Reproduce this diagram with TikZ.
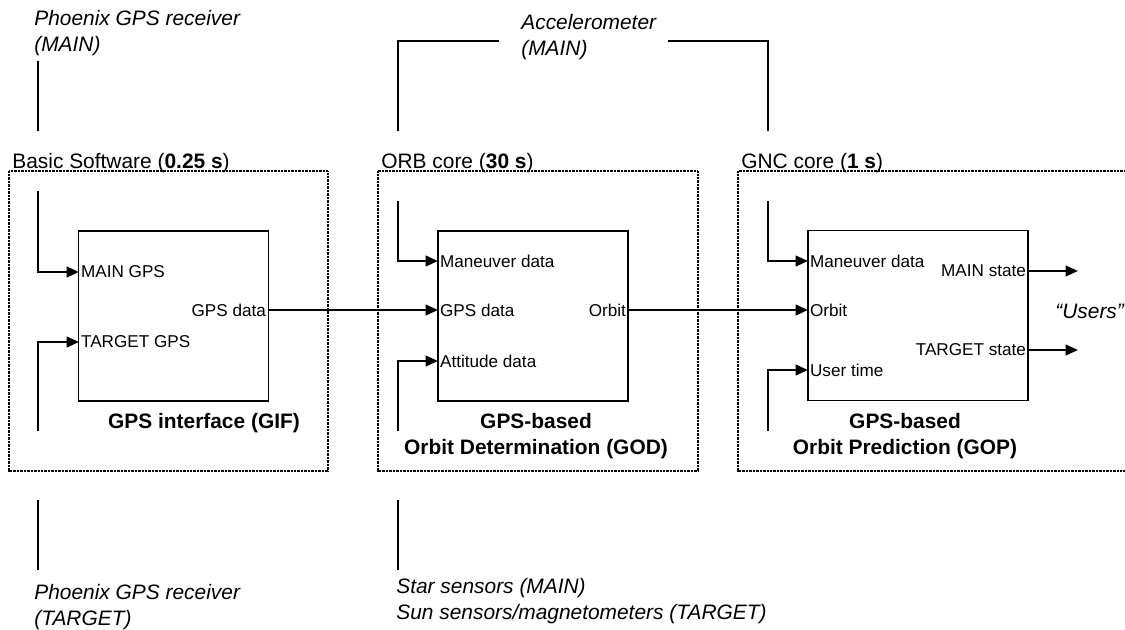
\documentclass[tikz,border=0pt]{standalone}
\usepackage{fontspec}
\setmainfont{Liberation Sans}
\usetikzlibrary{arrows.meta}

\newcommand{\portsize}{\fontsize{9.75}{11.5}\selectfont}
\newcommand{\labelsize}{\fontsize{11.9}{14.7}\selectfont}

\tikzset{
  corebox/.style={draw, line width=0.6pt, dash pattern=on 0.4pt off 0.4pt},
  block/.style={draw, line width=0.75pt, minimum width=3.8cm, minimum height=3.4cm, inner sep=0pt},
  port/.style={font=\portsize, inner sep=1pt},
  coretitle/.style={font=\labelsize, anchor=base west, inner sep=0pt},
  extern/.style={font=\labelsize\itshape, align=left, inner sep=0pt, anchor=north west},
  caption/.style={font=\labelsize\bfseries, align=center, inner sep=0pt, anchor=north},
  stub/.style={line width=0.65pt},
  feed/.style={line width=1.25pt, -{Triangle[length=7pt, width=6pt]}},
}

\begin{document}
\begin{tikzpicture}[x=0.02cm, y=-0.02cm]
  \useasboundingbox (0,0) rectangle (1125,629);

  % Core frames
  \draw[corebox] (9,171) rectangle (328,471);
  \draw[corebox] (378,171) rectangle (698,471);
  \draw[corebox] (738,171) rectangle (1140,471);
  \node[coretitle] (bsw) at (12,168) {Basic Software (\textbf{0.25 s})};
  \node[coretitle] (orb) at (381,168) {ORB core (\textbf{30 s})};
  \node[coretitle] (gnc) at (741,168) {GNC core (\textbf{1 s})};

  % Blocks
  \node[block] (gif) at (173.5,316) {};
  \node[block] (god) at (533,316) {};
  \node[block, minimum width=4.4cm] (gop) at (918,315.5) {};
  \node[caption] (gifcap) at (204,413) {GPS interface (GIF)};
  \node[caption] (godcap) at (536,413) {GPS-based\\Orbit Determination (GOD)};
  \node[caption] (gopcap) at (905,413) {GPS-based\\Orbit Prediction (GOP)};

  % Ports
  \node[port, anchor=west] (gifmain) at (79,272) {MAIN GPS};
  \node[port, anchor=west] (giftarget) at (79,342) {TARGET GPS};
  \node[port, anchor=east] (gifgps) at (268,310) {GPS data};
  \node[port, anchor=west] (godman) at (438,261) {Maneuver data};
  \node[port, anchor=west] (godgps) at (438,310) {GPS data};
  \node[port, anchor=west] (godatt) at (438,361) {Attitude data};
  \node[port, anchor=east] (godorbit) at (628,310) {Orbit};
  \node[port, anchor=west] (gopman) at (808,261) {Maneuver data};
  \node[port, anchor=west] (goporbit) at (808,310) {Orbit};
  \node[port, anchor=west] (goptime) at (808,370) {User time};
  \node[port, anchor=east] (gopmain) at (1028,271) {MAIN state};
  \node[port, anchor=east] (goptarget) at (1028,350) {TARGET state};

  % External sources and users
  \node[extern] (gpsmain) at (34,10) {Phoenix GPS receiver\\(MAIN)};
  \node[extern] (accel) at (521,14) {Accelerometer\\(MAIN)};
  \node[extern] (gpstarget) at (34,584) {Phoenix GPS receiver\\(TARGET)};
  \node[extern] (attsens) at (396,578) {Star sensors (MAIN)\\Sun sensors/magnetometers (TARGET)};
  \node[font=\labelsize\itshape, anchor=west, inner sep=0pt] (users) at (1055,311) {``Users''};

  \coordinate (gmtop) at (38,61);
  \coordinate (gmbot) at (38,131);
  \coordinate (gttop) at (38,500);
  \coordinate (gtbot) at (38,570);
  \coordinate (sstop) at (398,500);
  \coordinate (ssbot) at (398,570);
  \coordinate (accleft) at (499,41);
  \coordinate (accright) at (668,41);
  \coordinate (accorb) at (398,131);
  \coordinate (accgnc) at (768,131);
  \coordinate (usrmain) at (1078,271);
  \coordinate (usrtarget) at (1078,350);

  \draw[stub] (gmtop) -- (gmbot);
  \draw[stub] (gttop) -- (gtbot);
  \draw[stub] (sstop) -- (ssbot);
  \draw[stub] (accorb) |- (accleft);
  \draw[stub] (accright) -| (accgnc);

  % Data flow
  \draw[feed] (38,191) |- (gifmain.west);
  \draw[feed] (38,431) |- (giftarget.west);
  \draw[feed] (398,201) |- (godman.west);
  \draw[feed] (398,431) |- (godatt.west);
  \draw[feed] (768,201) |- (gopman.west);
  \draw[feed] (768,431) |- (goptime.west);
  \draw[feed] (gifgps.east) -- (godgps.west);
  \draw[feed] (godorbit.east) -- (goporbit.west);
  \draw[feed] (gopmain.east) -- (usrmain);
  \draw[feed] (goptarget.east) -- (usrtarget);
\end{tikzpicture}
\end{document}
